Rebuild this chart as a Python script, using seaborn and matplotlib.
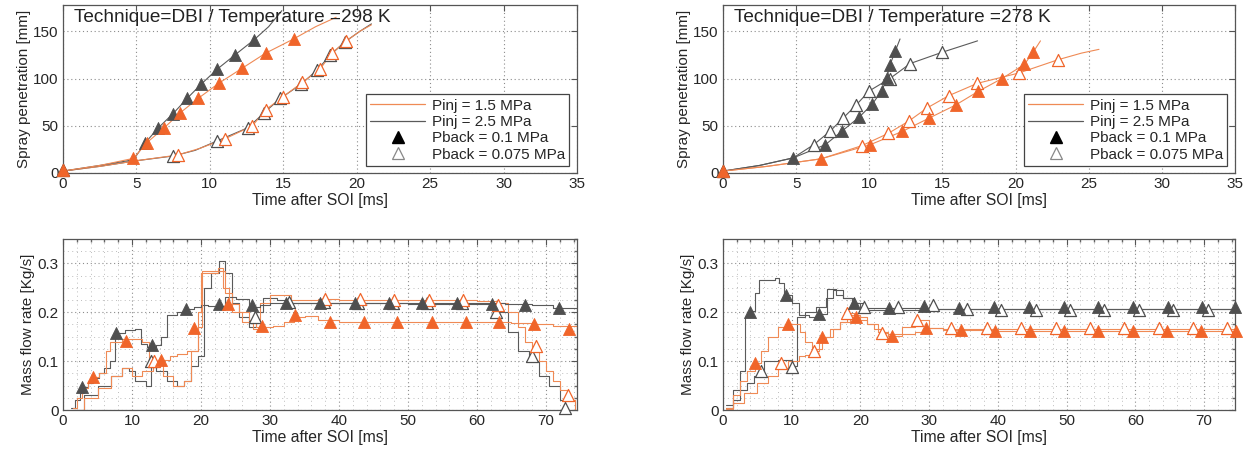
import matplotlib
matplotlib.use("Agg")
import matplotlib.pyplot as plt
import matplotlib.ticker as mticker
from matplotlib.lines import Line2D
import seaborn as sns

ORANGE = "#f0652a"
ORANGE_LINE = "#ef8a55"
GRAY = "#4f4f4f"
GRAY_LINE = "#5a5a5a"

# ---- spray penetration, 298 K ----
tl_of_line_t = [0, 2.5, 4.8, 5.7, 6.9, 8.0, 9.2, 10.6, 12.2, 13.8, 15.7, 17.2, 18.6]
tl_of_line_s = [2, 8, 15.5, 32, 48, 64, 79, 95, 111, 127, 142, 155, 165]
tl_of_mk_t = [0, 4.8, 5.7, 6.9, 8.0, 9.2, 10.6, 12.2, 13.8, 15.7]
tl_of_mk_s = [3, 15.5, 32, 48, 64, 79, 95, 111, 127, 142]

tl_gf_line_t = [0, 2.5, 4.8, 5.6, 6.5, 7.5, 8.45, 9.4, 10.5, 11.7, 13.0, 14.0, 14.9]
tl_gf_line_s = [2, 8, 14, 32, 48, 63, 79, 94, 110, 125, 141, 155, 172]
tl_gf_mk_t = [0, 5.6, 6.5, 7.5, 8.45, 9.4, 10.5, 11.7, 13.0]
tl_gf_mk_s = [3, 32, 48, 63, 79, 94, 110, 125, 141]

tl_go_line_t = [0, 2.5, 5, 7.5, 9, 10.5, 12.6, 13.7, 14.8, 16.2, 17.3, 18.2, 19.2, 20.2, 21.0]
tl_go_line_s = [2, 7, 13, 18, 24, 34, 48, 64, 79, 94, 109, 125, 139, 150, 158]
tl_go_mk_t = [0, 7.5, 10.5, 12.6, 13.7, 14.8, 16.2, 17.3, 18.2, 19.2]
tl_go_mk_s = [3, 18, 34, 48, 64, 79, 94, 109, 125, 139]

tl_oo_line_t = [0, 2.5, 5, 7.8, 9.3, 11.0, 12.9, 13.8, 15.0, 16.3, 17.5, 18.3, 19.3, 20.2, 21.0]
tl_oo_line_s = [2, 7, 13, 19, 26, 36, 50, 67, 81, 96, 110, 127, 140, 150, 157]
tl_oo_mk_t = [0, 7.8, 11.0, 12.9, 13.8, 15.0, 16.3, 17.5, 18.3, 19.3]
tl_oo_mk_s = [3, 19, 36, 50, 67, 81, 96, 110, 127, 140]

# ---- spray penetration, 278 K ----
tr_gf_line_t = [0, 2.5, 4.8, 7.0, 8.1, 9.3, 10.2, 10.86, 11.2, 11.4, 11.77, 12.1]
tr_gf_line_s = [2, 8, 16, 30, 44, 59, 73, 87, 101, 114, 129, 142]
tr_gf_mk_t = [0, 4.8, 7.0, 8.1, 9.3, 10.2, 10.86, 11.2, 11.4, 11.77]
tr_gf_mk_s = [2, 16, 30, 44, 59, 73, 87, 101, 114, 129]

tr_go_line_t = [0, 2.5, 4.8, 6.2, 7.3, 8.2, 9.1, 10.0, 11.4, 12.8, 15.0, 17.4]
tr_go_line_s = [2, 8, 16, 30, 44, 58, 72, 87, 100, 116, 128, 140]
tr_go_mk_t = [0, 6.2, 7.3, 8.2, 9.1, 10.0, 11.4, 12.8, 15.0]
tr_go_mk_s = [2, 30, 44, 58, 72, 87, 100, 116, 128]

tr_of_line_t = [0, 3, 6.7, 10.07, 12.25, 14.07, 15.9, 17.45, 19.06, 20.6, 21.2, 21.7]
tr_of_line_s = [2, 7, 15, 30, 44, 58, 72, 86.5, 100, 115, 128, 140]
tr_of_mk_t = [0, 6.7, 10.07, 12.25, 14.07, 15.9, 17.45, 19.06, 20.6, 21.2]
tr_of_mk_s = [2, 15, 30, 44, 58, 72, 86.5, 100, 115, 128]

tr_oo_line_t = [0, 3, 6.7, 9.5, 11.3, 12.7, 13.96, 15.44, 17.39, 20.24, 22.9, 24.5, 25.7]
tr_oo_line_s = [2, 7, 15, 29, 42, 55, 69, 82, 95, 106, 120, 127, 131]
tr_oo_mk_t = [0, 9.5, 11.3, 12.7, 13.96, 15.44, 17.39, 20.24, 22.9]
tr_oo_mk_s = [2, 29, 42, 55, 69, 82, 95, 106, 120]

# ---- mass flow rate, 298 K ----
bl_gf_t = [1.2, 1.8, 2.4, 3.0, 3.6, 4.4, 5.2, 6.0, 6.8, 7.5, 9.0, 10.5, 11.3, 12.2, 13.5,
           14.2, 15.1, 16.5, 17.5, 19.0, 20.0, 21.0, 23.5, 25.0, 27.0, 28.5, 30.0, 33.0,
           40.0, 50.0, 60.0, 64.0, 68.0, 71.0, 74.5]
bl_gf_y = [0.005, 0.02, 0.035, 0.048, 0.055, 0.065, 0.075, 0.085, 0.1, 0.158, 0.163, 0.165,
           0.135, 0.128, 0.134, 0.15, 0.195, 0.2, 0.207, 0.21, 0.215, 0.213, 0.232, 0.228,
           0.21, 0.215, 0.22, 0.22, 0.219, 0.219, 0.218, 0.216, 0.214, 0.209, 0.205]
bl_gf_mk_t = [2.8, 7.7, 12.9, 17.8, 22.6, 27.4, 32.3, 37.2, 42.3, 47.2, 52.1, 57.1, 62.2, 67.0, 71.9]
bl_gf_mk_y = [0.048, 0.158, 0.134, 0.207, 0.216, 0.215, 0.22, 0.22, 0.219, 0.219, 0.218,
              0.218, 0.216, 0.215, 0.209]

bl_of_t = [1.4, 2.0, 2.8, 3.6, 4.3, 5.2, 6.2, 6.8, 8.5, 10.0, 11.5, 12.5, 14.0, 15.5, 16.5,
           18.0, 19.5, 20.2, 22.5, 23.2, 24.0, 25.5, 27.0, 28.0, 30.5, 32.0, 33.5, 35.0,
           37.0, 40.0, 50.0, 60.0, 65.0, 68.0, 71.0, 74.5]
bl_of_y = [0.005, 0.025, 0.045, 0.06, 0.068, 0.075, 0.12, 0.14, 0.145, 0.145, 0.14, 0.1,
           0.103, 0.11, 0.115, 0.12, 0.17, 0.285, 0.29, 0.25, 0.216, 0.2, 0.185, 0.17, 0.171,
           0.18, 0.19, 0.192, 0.185, 0.18, 0.18, 0.18, 0.179, 0.176, 0.172, 0.165]
bl_of_mk_t = [4.3, 9.1, 14.2, 19.0, 23.9, 28.8, 33.6, 38.7, 43.6, 48.4, 53.5, 58.4, 63.2, 68.2, 73.3]
bl_of_mk_y = [0.068, 0.142, 0.103, 0.168, 0.216, 0.171, 0.194, 0.181, 0.181, 0.18, 0.18,
              0.18, 0.18, 0.176, 0.166]

bl_go_t = [1.5, 3.0, 5.0, 7.0, 8.5, 9.5, 10.5, 12.0, 12.8, 13.5, 15.0, 16.5, 17.5, 18.5,
           19.5, 20.4, 21.5, 22.6, 23.5, 24.5, 25.5, 27.0, 28.0, 29.0, 31.0, 33.0, 40.0,
           50.0, 60.0, 63.0, 64.5, 66.0, 67.5, 69.0, 70.5, 72.0, 72.8]
bl_go_y = [0.0, 0.03, 0.05, 0.07, 0.085, 0.08, 0.06, 0.05, 0.1, 0.08, 0.06, 0.05, 0.06,
           0.09, 0.11, 0.25, 0.28, 0.305, 0.28, 0.22, 0.19, 0.17, 0.2, 0.23, 0.225, 0.22,
           0.218, 0.217, 0.216, 0.2, 0.16, 0.12, 0.1, 0.07, 0.05, 0.02, 0.0]
bl_go_mk_t = [12.8, 27.8, 32.8, 37.8, 42.8, 47.8, 52.8, 57.8, 62.8, 67.9, 72.8]
bl_go_mk_y = [0.1, 0.19, 0.222, 0.222, 0.22, 0.22, 0.219, 0.218, 0.2, 0.11, 0.005]

bl_oo_t = [1.5, 3.0, 5.0, 7.0, 8.5, 10.0, 11.5, 13.0, 14.5, 16.0, 17.5, 18.5, 19.5, 20.0,
           22.5, 23.5, 24.5, 26.0, 27.5, 28.5, 30.0, 33.0, 37.0, 40.0, 50.0, 60.0, 63.0,
           64.5, 66.0, 67.0, 68.0, 69.0, 70.0, 71.0, 72.0, 73.0, 74.2]
bl_oo_y = [0.0, 0.025, 0.045, 0.07, 0.085, 0.07, 0.08, 0.1, 0.07, 0.05, 0.06, 0.12, 0.2,
           0.28, 0.285, 0.24, 0.2, 0.18, 0.165, 0.22, 0.235, 0.225, 0.228, 0.225, 0.225,
           0.224, 0.22, 0.2, 0.17, 0.14, 0.12, 0.1, 0.08, 0.06, 0.04, 0.02, 0.0]
bl_oo_mk_t = [13.2, 38.0, 43.0, 48.0, 53.0, 58.0, 63.0, 68.5, 73.2]
bl_oo_mk_y = [0.1, 0.228, 0.228, 0.226, 0.225, 0.225, 0.215, 0.13, 0.03]

# ---- mass flow rate, 278 K ----
br_gf_t = [0.5, 1.5, 2.5, 3.2, 3.8, 4.6, 5.3, 7.5, 8.1, 8.9, 10.0, 11.1, 12.5, 13.8, 15.1,
           16.5, 17.5, 18.8, 20.0, 30.0, 40.0, 50.0, 60.0, 74.5]
br_gf_y = [0.01, 0.04, 0.08, 0.19, 0.203, 0.24, 0.267, 0.27, 0.26, 0.236, 0.22, 0.195,
           0.19, 0.197, 0.247, 0.235, 0.23, 0.219, 0.208, 0.207, 0.207, 0.207, 0.207, 0.207]
br_gf_mk_t = [4.0, 9.2, 14.0, 19.0, 24.2, 29.2, 34.4, 39.4, 44.5, 49.6, 54.6, 59.6, 64.7, 69.7, 74.5]
br_gf_mk_y = [0.2, 0.236, 0.197, 0.219, 0.209, 0.212, 0.209, 0.21, 0.21, 0.21, 0.21, 0.21,
              0.21, 0.21, 0.21]

br_go_t = [0.5, 1.5, 2.5, 3.5, 4.5, 5.3, 6.0, 8.0, 10.0, 10.8, 12.0, 13.5, 15.0, 16.0,
           17.5, 19.0, 20.5, 30.0, 40.0, 50.0, 60.0, 74.5]
br_go_y = [0.005, 0.02, 0.04, 0.055, 0.07, 0.08, 0.1, 0.102, 0.09, 0.19, 0.2, 0.21,
           0.23, 0.245, 0.23, 0.22, 0.205, 0.207, 0.207, 0.207, 0.207, 0.207]
br_go_mk_t = [5.6, 10.1, 20.5, 25.5, 30.5, 35.5, 40.5, 45.5, 50.5, 55.5, 60.5, 65.5, 70.5]
br_go_mk_y = [0.08, 0.089, 0.21, 0.21, 0.215, 0.207, 0.205, 0.205, 0.205, 0.205, 0.205,
              0.205, 0.205]

br_of_t = [0.5, 1.5, 2.5, 3.5, 4.6, 5.5, 6.5, 8.0, 9.4, 10.5, 11.2, 12.0, 13.0, 14.4,
           15.5, 17.0, 18.5, 19.2, 21.0, 22.5, 24.0, 26.0, 28.0, 29.6, 32.0, 40.0, 50.0,
           60.0, 74.5]
br_of_y = [0.005, 0.03, 0.06, 0.08, 0.096, 0.12, 0.15, 0.17, 0.176, 0.175, 0.16, 0.14,
           0.125, 0.15, 0.165, 0.18, 0.195, 0.19, 0.175, 0.16, 0.152, 0.155, 0.16, 0.168,
           0.163, 0.162, 0.162, 0.162, 0.162]
br_of_mk_t = [4.6, 9.4, 14.4, 19.4, 24.6, 29.6, 34.6, 39.6, 44.6, 49.6, 54.6, 59.6, 64.6, 69.6, 74.6]
br_of_mk_y = [0.096, 0.176, 0.15, 0.19, 0.152, 0.168, 0.163, 0.162, 0.162, 0.162, 0.162,
              0.162, 0.162, 0.162, 0.162]

br_oo_t = [0.5, 1.5, 3.0, 5.0, 6.5, 8.0, 9.5, 11.0, 12.0, 13.2, 14.0, 15.0, 16.0, 17.0,
           18.0, 19.0, 20.0, 21.0, 22.0, 23.0, 24.0, 26.0, 28.0, 30.0, 32.0, 40.0, 50.0,
           60.0, 74.5]
br_oo_y = [0.002, 0.015, 0.035, 0.055, 0.07, 0.085, 0.1, 0.11, 0.112, 0.12, 0.14, 0.15,
           0.165, 0.18, 0.199, 0.195, 0.185, 0.175, 0.165, 0.158, 0.155, 0.17, 0.185,
           0.168, 0.166, 0.166, 0.166, 0.165, 0.165]
br_oo_mk_t = [8.4, 13.2, 18.0, 23.2, 28.2, 33.2, 38.4, 43.4, 48.4, 53.4, 58.4, 63.4, 68.4, 73.4]
br_oo_mk_y = [0.096, 0.12, 0.199, 0.158, 0.185, 0.167, 0.168, 0.168, 0.168, 0.168, 0.168,
              0.168, 0.168, 0.168]


def draw_line(ax, t, y, color, steps=False):
    sns.lineplot(x=t, y=y, ax=ax, color=color, lw=0.8, sort=False, estimator=None,
                 drawstyle="steps-post" if steps else "default", zorder=2)


def draw_markers(ax, t, y, color, filled=True):
    if filled:
        sns.scatterplot(x=t, y=y, ax=ax, marker="^", s=75, color=color,
                        edgecolor=color, linewidth=0.6, zorder=4, clip_on=False)
    else:
        sns.scatterplot(x=t, y=y, ax=ax, marker="^", s=75, color="white",
                        edgecolor=color, linewidth=0.9, zorder=3, clip_on=False)


def style_axes(ax, minor=False):
    for sp in ax.spines.values():
        sp.set_visible(True)
        sp.set_color("#555555")
        sp.set_linewidth(0.9)
    ax.tick_params(direction="in", top=True, right=True, length=4, width=0.8,
                   color="#555555", labelsize=11, pad=3)
    ax.grid(True, which="major", linestyle=(0, (1, 2.5)), color="#8c8c8c",
            linewidth=0.8)
    if minor:
        ax.tick_params(which="minor", direction="in", top=True, right=True,
                       length=2, color="#666666")
        ax.grid(True, which="minor", linestyle=(0, (1, 3.5)), color="#bdbdbd",
                linewidth=0.7)
    ax.set_axisbelow(True)


def pen_axes(ax, title, series):
    for line_t, line_s, mk_t, mk_s, col, lcol, filled in series:
        draw_line(ax, line_t, line_s, lcol)
        draw_markers(ax, mk_t, mk_s, col, filled)
    ax.set_xlim(0, 35)
    ax.set_ylim(0, 178)
    ax.set_xticks(range(0, 36, 5))
    ax.set_yticks([0, 50, 100, 150])
    style_axes(ax)
    ax.set_xlabel("Time after SOI [ms]", fontsize=11.3, labelpad=1)
    ax.set_ylabel("Spray penetration [mm]", fontsize=11, labelpad=2)
    ax.text(0.022, 0.975, title, transform=ax.transAxes, fontsize=13.7,
            va="top", ha="left", color="#222222")
    handles = [
        Line2D([], [], color=ORANGE_LINE, lw=0.9),
        Line2D([], [], color=GRAY_LINE, lw=0.9),
        Line2D([], [], color="black", marker="^", ls="none", ms=8),
        Line2D([], [], color="#888888", marker="^", ls="none", ms=8,
               markerfacecolor="white", markeredgewidth=0.9),
    ]
    labels = ["Pinj = 1.5 MPa", "Pinj = 2.5 MPa", "Pback = 0.1 MPa", "Pback = 0.075 MPa"]
    leg = ax.legend(handles, labels, loc="lower right", bbox_to_anchor=(0.985, 0.04),
                    fontsize=11, frameon=True, fancybox=False, framealpha=1,
                    edgecolor="#444444", handlelength=3.6, labelspacing=0.15,
                    borderpad=0.3, handletextpad=0.4, borderaxespad=0)
    leg.get_frame().set_linewidth(0.9)


def flow_axes(ax, series):
    for t, y, mk_t, mk_y, col, lcol, filled in series:
        draw_line(ax, t, y, lcol, steps=True)
        draw_markers(ax, mk_t, mk_y, col, filled)
    ax.set_xlim(0, 74.5)
    ax.set_ylim(0, 0.35)
    ax.set_xticks(range(0, 71, 10))
    ax.set_yticks([0, 0.1, 0.2, 0.3])
    ax.yaxis.set_major_formatter(mticker.FuncFormatter(lambda v, p: f"{v:g}"))
    ax.xaxis.set_minor_locator(mticker.MultipleLocator(2))
    ax.yaxis.set_minor_locator(mticker.MultipleLocator(0.025))
    style_axes(ax, minor=True)
    ax.set_xlabel("Time after SOI [ms]", fontsize=11.3, labelpad=1)
    ax.set_ylabel("Mass flow rate [Kg/s]", fontsize=11, labelpad=2)


def main():
    sns.set_theme(style="white")
    plt.rcParams["font.family"] = ["Liberation Sans", "DejaVu Sans"]
    fig = plt.figure(figsize=(12.55, 4.58), dpi=100)
    ax_tl = fig.add_axes([0.0502, 0.6223, 0.4096, 0.3668])
    ax_tr = fig.add_axes([0.5761, 0.6223, 0.4080, 0.3668])
    ax_bl = fig.add_axes([0.0502, 0.1048, 0.4096, 0.3734])
    ax_br = fig.add_axes([0.5761, 0.1048, 0.4080, 0.3734])

    pen_axes(ax_tl, "Technique=DBI / Temperature =298 K", [
        (tl_go_line_t, tl_go_line_s, tl_go_mk_t, tl_go_mk_s, GRAY, GRAY_LINE, False),
        (tl_oo_line_t, tl_oo_line_s, tl_oo_mk_t, tl_oo_mk_s, ORANGE, ORANGE_LINE, False),
        (tl_gf_line_t, tl_gf_line_s, tl_gf_mk_t, tl_gf_mk_s, GRAY, GRAY_LINE, True),
        (tl_of_line_t, tl_of_line_s, tl_of_mk_t, tl_of_mk_s, ORANGE, ORANGE_LINE, True),
    ])
    pen_axes(ax_tr, "Technique=DBI / Temperature =278 K", [
        (tr_go_line_t, tr_go_line_s, tr_go_mk_t, tr_go_mk_s, GRAY, GRAY_LINE, False),
        (tr_oo_line_t, tr_oo_line_s, tr_oo_mk_t, tr_oo_mk_s, ORANGE, ORANGE_LINE, False),
        (tr_gf_line_t, tr_gf_line_s, tr_gf_mk_t, tr_gf_mk_s, GRAY, GRAY_LINE, True),
        (tr_of_line_t, tr_of_line_s, tr_of_mk_t, tr_of_mk_s, ORANGE, ORANGE_LINE, True),
    ])
    flow_axes(ax_bl, [
        (bl_go_t, bl_go_y, bl_go_mk_t, bl_go_mk_y, GRAY, GRAY_LINE, False),
        (bl_oo_t, bl_oo_y, bl_oo_mk_t, bl_oo_mk_y, ORANGE, ORANGE_LINE, False),
        (bl_gf_t, bl_gf_y, bl_gf_mk_t, bl_gf_mk_y, GRAY, GRAY_LINE, True),
        (bl_of_t, bl_of_y, bl_of_mk_t, bl_of_mk_y, ORANGE, ORANGE_LINE, True),
    ])
    flow_axes(ax_br, [
        (br_go_t, br_go_y, br_go_mk_t, br_go_mk_y, GRAY, GRAY_LINE, False),
        (br_oo_t, br_oo_y, br_oo_mk_t, br_oo_mk_y, ORANGE, ORANGE_LINE, False),
        (br_gf_t, br_gf_y, br_gf_mk_t, br_gf_mk_y, GRAY, GRAY_LINE, True),
        (br_of_t, br_of_y, br_of_mk_t, br_of_mk_y, ORANGE, ORANGE_LINE, True),
    ])

    fig.savefig("out.png", dpi=100, facecolor="white")
    plt.close(fig)


if __name__ == "__main__":
    main()
